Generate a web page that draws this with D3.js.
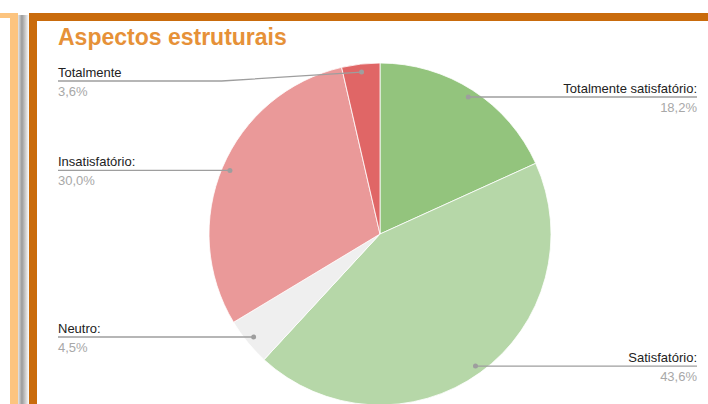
<!DOCTYPE html>
<html>
<head>
<meta charset="utf-8">
<script src="https://cdn.jsdelivr.net/npm/d3@7"></script>
<style>
  body { margin: 0; background: #fff; }
  svg text { font-family: "Liberation Sans", Arial, sans-serif; }
</style>
</head>
<body>
<div id="chart"></div>
<script>
const width = 708;
const height = 404;

// Chart data
const categories = ["Totalmente satisfatório:", "Satisfatório:", "Neutro:", "Insatisfatório:", "Totalmente"];
const values = [18.2, 43.6, 4.5, 30.0, 3.6];
const valueLabels = ["18,2%", "43,6%", "4,5%", "30,0%", "3,6%"];
const colors = ["#93c47d", "#b6d7a8", "#efefef", "#ea9999", "#e06666"];

const svg = d3.select("#chart").append("svg")
    .attr("width", width)
    .attr("height", height);

svg.append("rect").attr("width", width).attr("height", height).attr("fill", "#fff");

// slide frames: light orange box on the left, shadow, dark orange box
const defs = svg.append("defs");
const grad = defs.append("linearGradient").attr("id", "shadow");
grad.append("stop").attr("offset", "0%").attr("stop-color", "#e6e6e6");
grad.append("stop").attr("offset", "35%").attr("stop-color", "#9a9a9a");
grad.append("stop").attr("offset", "70%").attr("stop-color", "#d0d0d0");
grad.append("stop").attr("offset", "100%").attr("stop-color", "#ffffff");

svg.append("rect").attr("x", 18).attr("y", 15).attr("width", 11).attr("height", 400)
    .attr("fill", "url(#shadow)");
svg.append("rect").attr("x", -10).attr("y", 13).attr("width", 28).attr("height", 400)
    .attr("fill", "#fcc47f");
svg.append("rect").attr("x", -10).attr("y", 18).attr("width", 20).attr("height", 400)
    .attr("fill", "#fff");
svg.append("rect").attr("x", 29).attr("y", 13).attr("width", 700).attr("height", 400)
    .attr("fill", "#c96b0c");
svg.append("rect").attr("x", 37).attr("y", 21).attr("width", 700).attr("height", 400)
    .attr("fill", "#fff");

// Title
svg.append("text")
    .attr("x", 58)
    .attr("y", 45)
    .attr("font-size", "23px")
    .attr("font-weight", "bold")
    .attr("fill", "#e69138")
    .text("Aspectos estruturais");

// Pie
const cx = 380, cy = 234, radius = 171;
const g = svg.append("g").attr("transform", `translate(${cx},${cy})`);

const pie = d3.pie().sort(null).value(d => d.value);
const arcs = pie(categories.map((c, i) => ({ name: c, value: values[i], label: valueLabels[i], color: colors[i] })));

const arc = d3.arc().innerRadius(0).outerRadius(radius);
const dotArc = d3.arc().innerRadius(radius - 8).outerRadius(radius - 8);

g.selectAll("path.slice")
    .data(arcs)
    .enter().append("path")
    .attr("class", "slice")
    .attr("d", arc)
    .attr("fill", d => d.data.color)
    .attr("stroke", "#fff")
    .attr("stroke-width", 0.8);

// Labels with leader lines
const leftX = 58, rightX = 697, minLineY = 81;

arcs.forEach(d => {
    const [px, py] = dotArc.centroid(d);
    const dotX = cx + px, dotY = cy + py;
    const mid = (d.startAngle + d.endAngle) / 2;
    const left = mid > Math.PI;
    const lineY = Math.max(dotY, minLineY);

    let pts;
    if (left) {
        pts = Math.abs(lineY - dotY) > 1
            ? [[leftX, lineY], [dotX - 140, lineY], [dotX, dotY]]
            : [[leftX, lineY], [dotX, dotY]];
    } else {
        pts = [[dotX, dotY], [rightX, lineY]];
    }

    svg.append("path")
        .attr("d", d3.line()(pts))
        .attr("fill", "none")
        .attr("stroke", "#9e9e9e")
        .attr("stroke-width", 1.3);

    svg.append("circle")
        .attr("cx", dotX).attr("cy", dotY).attr("r", 2.5)
        .attr("fill", "#9e9e9e");

    const tx = left ? leftX : rightX;
    const anchor = left ? "start" : "end";

    svg.append("text")
        .attr("x", tx).attr("y", lineY - 4)
        .attr("text-anchor", anchor)
        .attr("font-size", "13px")
        .attr("fill", "#222")
        .text(d.data.name);

    svg.append("text")
        .attr("x", tx).attr("y", lineY + 15)
        .attr("text-anchor", anchor)
        .attr("font-size", "13px")
        .attr("fill", "#a8a8a8")
        .text(d.data.label);
});
</script>
</body>
</html>
